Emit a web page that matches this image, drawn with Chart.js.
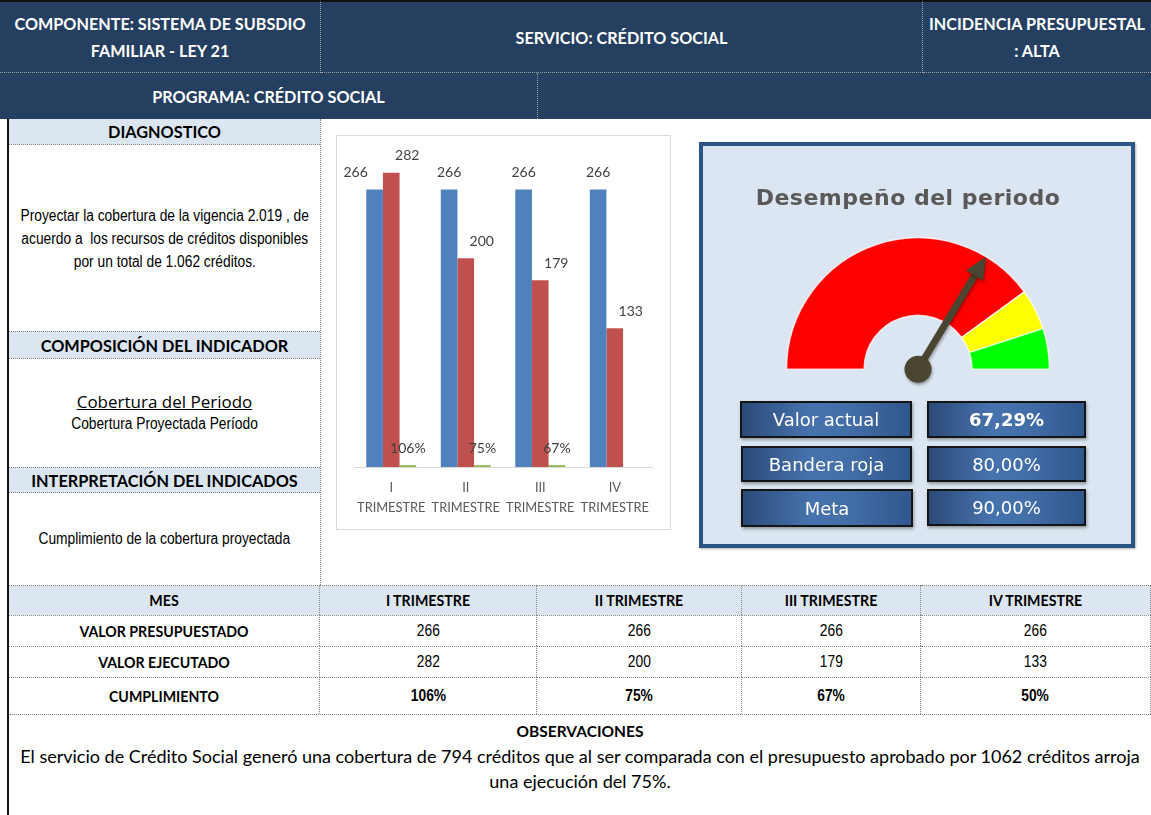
<!DOCTYPE html>
<html><head><meta charset="utf-8">
<script src="https://cdn.jsdelivr.net/npm/chart.js@4.4.1/dist/chart.umd.min.js"></script>
<style>
html,body{margin:0;padding:0;background:#fff;width:1151px;height:815px;overflow:hidden;}
.c{position:absolute;box-sizing:border-box;display:flex;align-items:center;justify-content:center;text-align:center;}
.navy{background:#243F60;color:#fff;font-family:Lato,"Open Sans",sans-serif;font-weight:bold;font-size:16.2px;line-height:27px;}
.lb{background:#DCE6F1;font-family:Lato,sans-serif;font-weight:bold;font-size:16.3px;color:#000;}
.tx{font-family:"Liberation Sans",Arial,sans-serif;font-size:16px;color:#000;}
.nar{display:inline-block;transform:scaleX(0.86);transform-origin:center;white-space:nowrap;}
.th{background:#DCE6F1;font-family:Lato,sans-serif;font-weight:bold;font-size:14.2px;color:#000;}
.rl{font-family:Lato,sans-serif;font-weight:bold;font-size:14.2px;color:#000;}
.num{font-family:"Liberation Sans",Arial,sans-serif;font-size:16px;color:#000;}
.vb{position:absolute;box-sizing:border-box;border:2px solid #151515;color:#fff;font-family:"DejaVu Sans",sans-serif;font-size:18px;display:flex;align-items:center;justify-content:center;
 background:linear-gradient(to right,#2c4a78 0%,#4673ad 40%,#4470aa 60%,#31578d 100%);box-shadow:1px 2px 3px rgba(0,0,0,0.35);}
</style>
</head><body>
<!-- header -->
<div class="c navy" style="left:0;top:0;width:321px;height:73px;border-top:2px solid #111;border-right:1px dotted #9aa3ad;border-bottom:1px dotted #9aa3ad;">COMPONENTE: SISTEMA DE SUBSDIO<br>FAMILIAR - LEY 21</div>
<div class="c navy" style="left:321px;top:0;width:602px;height:73px;border-top:2px solid #111;border-right:1px dotted #9aa3ad;border-bottom:1px dotted #9aa3ad;">SERVICIO: CRÉDITO SOCIAL</div>
<div class="c navy" style="left:923px;top:0;width:228px;height:73px;border-top:2px solid #111;border-bottom:1px dotted #9aa3ad;">INCIDENCIA PRESUPUESTAL<br>: ALTA</div>
<div class="c navy" style="left:0;top:73px;width:538px;height:46px;border-right:1px dotted #9aa3ad;">PROGRAMA: CRÉDITO SOCIAL</div>
<div class="c navy" style="left:538px;top:73px;width:613px;height:46px;"></div>

<!-- left column -->
<div style="position:absolute;left:7px;top:119px;width:2px;height:696px;background:#111;"></div>
<div style="position:absolute;left:320px;top:119px;width:0;height:466px;border-left:1px dotted #888;"></div>
<div class="c lb" style="left:9px;top:119px;width:311px;height:26px;border-bottom:1px dotted #888;">DIAGNOSTICO</div>
<div class="c tx" style="left:9px;top:145px;width:311px;height:187px;line-height:23px;flex-direction:column;">
  <span class="nar">Proyectar la cobertura de la vigencia 2.019 , de</span>
  <span class="nar">acuerdo a &nbsp;los recursos de créditos disponibles</span>
  <span class="nar">por un total de 1.062 créditos.</span>
</div>
<div class="c lb" style="left:9px;top:331px;width:311px;height:28px;border-top:1px dotted #888;border-bottom:1px dotted #888;">COMPOSICIÓN DEL INDICADOR</div>
<div class="c" style="left:9px;top:359px;width:311px;height:108px;flex-direction:column;">
  <div style="font-family:'Open Sans',sans-serif;font-size:17px;text-decoration:underline;color:#000;line-height:22px;">Cobertura del Periodo</div>
  <div class="tx" style="line-height:22px;"><span class="nar">Cobertura Proyectada Período</span></div>
</div>
<div class="c lb" style="left:9px;top:467px;width:311px;height:26px;border-top:1px dotted #888;border-bottom:1px dotted #888;">INTERPRETACIÓN DEL INDICADOS</div>
<div class="c tx" style="left:9px;top:493px;width:311px;height:92px;"><span class="nar">Cumplimiento de la cobertura proyectada</span></div>

<!-- bar chart -->
<div style="position:absolute;left:336px;top:135px;width:335px;height:395px;box-sizing:border-box;border:1px solid #d9d9d9;background:#fff;">
  <canvas id="bar" width="333" height="393" style="display:block;width:333px;height:393px;"></canvas>
</div>

<!-- gauge -->
<div style="position:absolute;left:699px;top:142px;width:436px;height:406px;box-sizing:border-box;border:4px solid #2B5584;background:#DCE6F2;box-shadow:1px 1px 2px rgba(0,0,0,0.3);">
  <canvas id="gauge" width="428" height="398" style="display:block;width:428px;height:398px;"></canvas>
</div>
<div style="position:absolute;left:708px;top:180px;width:400px;height:36px;text-align:center;font-family:'DejaVu Sans',sans-serif;font-weight:bold;font-size:22px;color:#595959;line-height:36px;letter-spacing:0.5px;">Desempeño del periodo</div>
<div class="vb" style="left:740px;top:401px;width:172px;height:37px;">Valor actual</div>
<div class="vb" id="vActual" style="left:927px;top:401px;width:159px;height:37px;font-weight:bold;"></div>
<div class="vb" style="left:741px;top:446px;width:171px;height:36px;">Bandera roja</div>
<div class="vb" id="vRoja" style="left:927px;top:446px;width:159px;height:36px;"></div>
<div class="vb" style="left:741px;top:489px;width:172px;height:38px;">Meta</div>
<div class="vb" id="vMeta" style="left:927px;top:489px;width:159px;height:37px;"></div>

<!-- table -->
<div id="table"></div>

<!-- observaciones -->
<div style="position:absolute;left:9px;top:714px;width:1142px;height:1px;border-top:1px dotted #888;"></div>
<div style="position:absolute;left:9px;top:720px;width:1142px;text-align:center;font-family:Lato,sans-serif;font-weight:bold;font-size:15.5px;line-height:22px;color:#000;">OBSERVACIONES</div>
<div style="position:absolute;left:9px;top:744px;width:1142px;text-align:center;font-family:Lato,sans-serif;font-size:18px;line-height:25px;color:#000;white-space:nowrap;">El servicio de Crédito Social generó una cobertura de 794 créditos que al ser comparada con el presupuesto aprobado por 1062 créditos arroja<br>una ejecución del 75%.</div>

<script>
// ---- data ----
const categories = ["I TRIMESTRE", "II TRIMESTRE", "III TRIMESTRE", "IV TRIMESTRE"];
const axisLabels = [["I", "TRIMESTRE"], ["II", "TRIMESTRE"], ["III", "TRIMESTRE"], ["IV", "TRIMESTRE"]];
const valorPresupuestado = [266, 266, 266, 266];
const valorEjecutado = [282, 200, 179, 133];
const cumplimientoTabla = ["106%", "75%", "67%", "50%"];
const cumplimientoGrafico = [1.06, 0.75, 0.67, null];
const valorActual = 67.29;
const banderaRoja = 80;
const meta = 90;
const gaugeColors = ["#FF0000", "#FFFF00", "#00FF00"];

// ---- table ----
(function(){
  const cols = [9, 320, 537, 742, 921, 1151];
  const rows = [585, 615, 646, 677, 714];
  const t = document.getElementById('table');
  const add = (cls, x0, x1, y0, y1, html) => {
    const d = document.createElement('div');
    d.className = 'c ' + cls;
    d.style.cssText = `left:${x0}px;top:${y0}px;width:${x1-x0}px;height:${y1-y0}px;border-top:1px dotted #888;border-right:1px dotted #888;`;
    d.innerHTML = html;
    t.appendChild(d);
  };
  add('th', cols[0], cols[1], rows[0], rows[1], 'MES');
  categories.forEach((c,i)=> add('th', cols[i+1], cols[i+2], rows[0], rows[1], c));
  add('rl', cols[0], cols[1], rows[1], rows[2], 'VALOR PRESUPUESTADO');
  valorPresupuestado.forEach((v,i)=> add('num', cols[i+1], cols[i+2], rows[1], rows[2], '<span class="nar">'+v+'</span>'));
  add('rl', cols[0], cols[1], rows[2], rows[3], 'VALOR EJECUTADO');
  valorEjecutado.forEach((v,i)=> add('num', cols[i+1], cols[i+2], rows[2], rows[3], '<span class="nar">'+v+'</span>'));
  add('rl', cols[0], cols[1], rows[3], rows[4], 'CUMPLIMIENTO');
  cumplimientoTabla.forEach((v,i)=> add('num', cols[i+1], cols[i+2], rows[3], rows[4], '<span class="nar"><b>'+v+'</b></span>'));
})();

const fmt = v => v.toFixed(2).replace('.', ',') + '%';
document.getElementById('vActual').textContent = fmt(valorActual);
document.getElementById('vRoja').textContent = fmt(banderaRoja);
document.getElementById('vMeta').textContent = fmt(meta);

// ---- bar chart ----
const labelPlugin = {
  id: 'barLabels',
  afterDatasetsDraw(chart) {
    const ctx = chart.ctx;
    ctx.save();
    ctx.font = '14px Lato, sans-serif';
    ctx.fillStyle = '#404040';
    ctx.textAlign = 'center';
    ctx.textBaseline = 'middle';
    chart.data.datasets.forEach((ds, di) => {
      const meta = chart.getDatasetMeta(di);
      const next = chart.data.datasets[di + 1];
      meta.data.forEach((bar, i) => {
        const v = ds.data[i];
        if (v === null || v === undefined) return;
        const txt = ds.isPct ? Math.round(v * 100) + '%' : String(v);
        let dx = ds.labelDx || 0;
        // if the neighbouring bar is taller, move the label out of its way
        if (!ds.isPct && next && !next.isPct && next.data[i] > v) dx -= 19;
        ctx.fillText(txt, bar.x + dx, bar.y - 17);
      });
    });
    ctx.restore();
  }
};

new Chart(document.getElementById('bar'), {
  type: 'bar',
  data: {
    labels: axisLabels,
    datasets: [
      { label: 'Valor presupuestado', data: valorPresupuestado, backgroundColor: '#4F81BD', labelDx: 0 },
      { label: 'Valor ejecutado', data: valorEjecutado, backgroundColor: '#C0504D', labelDx: 16 },
      { label: 'Cumplimiento', data: cumplimientoGrafico, backgroundColor: '#9BBB59', isPct: true, labelDx: 0, minBarLength: 2 }
    ]
  },
  options: {
    responsive: false,
    animation: false,
    devicePixelRatio: 1,
    layout: { padding: { left: 17, right: 18, top: 18, bottom: 0 } },
    categoryPercentage: 0.67,
    barPercentage: 1.0,
    plugins: { legend: { display: false }, tooltip: { enabled: false } },
    scales: {
      x: {
        grid: { display: false, drawTicks: false },
        border: { display: true, color: '#D9D9D9', width: 1 },
        ticks: { color: '#595959', font: { family: 'Lato', size: 12.8, lineHeight: 1.56 }, padding: 11, maxRotation: 0 }
      },
      y: { display: false, min: 0, max: 300 }
    }
  },
  plugins: [labelPlugin]
});

// ---- gauge ----
const needlePlugin = {
  id: 'needle',
  afterDatasetsDraw(chart) {
    const arc = chart.getDatasetMeta(0).data[0];
    const cx = arc.x, cy = arc.y, R = arc.outerRadius;
    const a = Math.PI + (valorActual / 100) * Math.PI;
    const ctx = chart.ctx;
    const tipX = cx + R * Math.cos(a), tipY = cy + R * Math.sin(a);
    const headLen = 22, headW = 10;
    const bx = cx + (R - headLen) * Math.cos(a), by = cy + (R - headLen) * Math.sin(a);
    const px = -Math.sin(a), py = Math.cos(a);
    ctx.save();
    ctx.shadowColor = 'rgba(0,0,0,0.35)'; ctx.shadowBlur = 3; ctx.shadowOffsetX = 1; ctx.shadowOffsetY = 2;
    ctx.strokeStyle = '#4A4530'; ctx.fillStyle = '#4A4530';
    ctx.lineWidth = 7;
    ctx.beginPath(); ctx.moveTo(cx, cy); ctx.lineTo(bx, by); ctx.stroke();
    ctx.beginPath();
    ctx.moveTo(tipX, tipY);
    ctx.lineTo(bx + px * headW, by + py * headW);
    ctx.lineTo(bx - px * headW, by - py * headW);
    ctx.closePath(); ctx.fill();
    ctx.beginPath(); ctx.arc(cx, cy, 13.5, 0, Math.PI * 2); ctx.fill();
    ctx.restore();
  }
};

new Chart(document.getElementById('gauge'), {
  type: 'doughnut',
  data: {
    labels: ['Rojo', 'Amarillo', 'Verde'],
    datasets: [{
      data: [banderaRoja, meta - banderaRoja, 100 - meta],
      backgroundColor: gaugeColors,
      borderColor: 'rgba(255,255,255,0.75)',
      borderWidth: 1.5
    }]
  },
  options: {
    responsive: false,
    animation: false,
    devicePixelRatio: 1,
    rotation: -90,
    circumference: 180,
    cutout: '41%',
    layout: { padding: { left: 82, right: 80, top: 91, bottom: 174 } },
    plugins: { legend: { display: false }, tooltip: { enabled: false } }
  },
  plugins: [needlePlugin]
});
</script>
</body></html>
